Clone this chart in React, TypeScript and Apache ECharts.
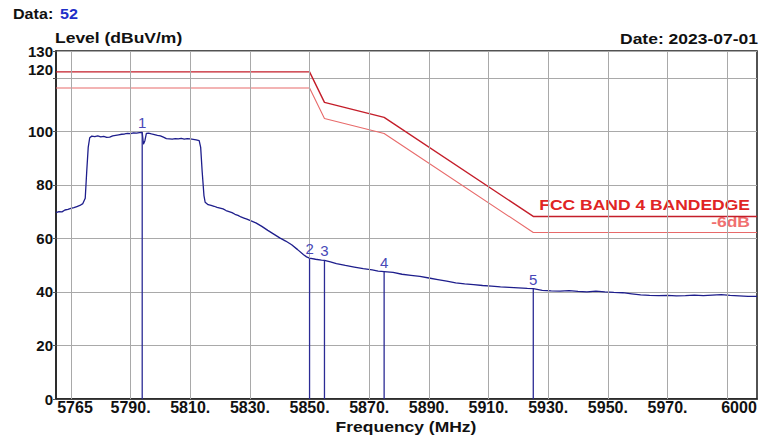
import React, { useEffect, useRef } from "react";
import * as echarts from "echarts";

const trace: [number, number][] = [
  [5765, 69.6], [5766, 70.0], [5767, 69.9], [5768, 70.6], [5769, 70.8], [5770, 71.2],
  [5771, 71.5], [5772, 71.9], [5773, 72.3], [5774, 73.0], [5774.8, 75.0], [5775.3, 85.0],
  [5775.8, 94.0], [5776.3, 97.6], [5777, 98.2], [5778, 98.0], [5779, 98.3], [5780, 97.9],
  [5781, 98.1], [5782, 97.7], [5783, 97.8], [5784, 98.3], [5785, 98.5], [5786, 98.7],
  [5787, 98.9], [5788, 99.0], [5789, 99.2], [5790, 99.1], [5791, 99.4], [5792, 99.3],
  [5793, 99.5], [5793.9, 99.6], [5794.3, 95.2], [5794.8, 96.5], [5795.3, 99.2], [5796, 99.3],
  [5797, 99.0], [5798, 98.8], [5799, 98.5], [5800, 98.3], [5801, 97.8], [5802, 97.3],
  [5803, 97.2], [5804, 97.1], [5805, 97.3], [5806, 97.2], [5807, 97.4], [5808, 97.1],
  [5809, 97.3], [5810, 97.2], [5811, 97.0], [5812, 96.8], [5813, 96.5], [5813.5, 94.0],
  [5814, 85.0], [5814.6, 76.0], [5815, 73.5], [5816, 72.6], [5817, 72.3], [5818, 72.0],
  [5819, 71.6], [5820, 71.3], [5821, 71.0], [5822, 70.4], [5823, 70.0], [5824, 69.6],
  [5825, 69.0], [5826, 68.6], [5827, 68.0], [5828, 67.6], [5829, 67.2], [5830, 66.7],
  [5832, 65.8], [5834, 64.5], [5836, 63.0], [5838, 61.6], [5840, 60.2], [5842, 59.0],
  [5844, 57.6], [5846, 55.8], [5848, 53.9], [5849, 53.1], [5850, 52.6], [5852, 52.2],
  [5854, 51.9], [5855, 51.8], [5857, 51.2], [5859, 50.6], [5862, 49.9], [5865, 49.3],
  [5868, 48.7], [5871, 48.2], [5873, 47.8], [5875, 47.6], [5878, 47.3], [5881, 46.6],
  [5884, 46.2], [5887, 45.8], [5890, 45.2], [5893, 44.6], [5896, 44.0], [5899, 43.4],
  [5902, 43.0], [5905, 42.7], [5908, 42.4], [5911, 42.2], [5914, 41.9], [5917, 41.7],
  [5920, 41.5], [5923, 41.3], [5925, 41.2], [5928, 40.6], [5931, 40.4], [5934, 40.3],
  [5937, 40.5], [5940, 40.2], [5943, 40.0], [5946, 40.3], [5949, 40.0], [5952, 39.8],
  [5955, 39.7], [5958, 39.3], [5961, 38.9], [5964, 38.7], [5967, 38.6], [5970, 38.7],
  [5973, 38.5], [5976, 38.6], [5979, 38.8], [5982, 38.6], [5985, 38.8], [5988, 39.0],
  [5991, 38.7], [5994, 38.5], [5997, 38.3], [6000, 38.3],
];

// FCC band 4 band-edge limit and -6 dB line
const limitFreq = [5765, 5850, 5855, 5875, 5925, 6000];
const limitLevel = [122.2, 122.2, 110.8, 105.2, 68.2, 68.2];
const limit6Level = [116.2, 116.2, 104.8, 99.2, 62.2, 62.2];

// Markers
const markerLabels = ["1", "2", "3", "4", "5"];
const markerFreq = [5793.9, 5850, 5855, 5875, 5925];
const markerLevel = [99.6, 52.6, 51.8, 47.6, 41.2];

// Axes
const xMin = 5765;
const xMax = 6000;
const xLabelValues = [5765, 5790, 5810, 5830, 5850, 5870, 5890, 5910, 5930, 5950, 5970, 6000];
const xGridValues = [5770, 5790, 5810, 5830, 5850, 5870, 5890, 5910, 5930, 5950, 5970, 5990];
const yMin = 0;
const yMax = 130;
const yInterval = 20;

const FONT = '"Liberation Sans", Arial, sans-serif';
const GRID_COLOR = "#a9a9a9";

function buildOption(): any {
  const lab = (extra: any = {}) => ({
    fontSize: 16,
    fontWeight: "bold",
    fontFamily: FONT,
    color: "#111",
    ...extra,
  });
  const ylab = (extra: any = {}) => ({
    fontSize: 15,
    fontWeight: "bold",
    fontFamily: FONT,
    color: "#111",
    ...extra,
  });
  const gtext = (text: string, x: number, y: number, align: string, fill: string, scaleX = 1.25, font = `bold 14px ${FONT}`) => ({
    type: "text",
    x,
    y,
    scaleX,
    silent: true,
    style: {
      text,
      fill,
      font,
      align,
      textAlign: align,
      verticalAlign: "middle",
      textVerticalAlign: "middle",
    },
  });

  return {
    animation: false,
    backgroundColor: "#ffffff",
    grid: {
      left: 56,
      right: 15,
      top: 51,
      bottom: 42,
      show: true,
      borderColor: "#1a1a1a",
      borderWidth: 1.5,
      backgroundColor: "transparent",
    },
    xAxis: {
      type: "value",
      min: xMin,
      max: xMax,
      axisLine: { show: true, lineStyle: { color: "#222", width: 1.5 } },
      axisTick: { show: false },
      splitLine: { show: false },
      axisLabel: {
        customValues: xLabelValues,
        showMinLabel: true,
        showMaxLabel: true,
        margin: 0,
        formatter: (v: number) =>
          v === xMin ? `{l|${v}}` : v === xMax ? `{r|${v}}` : `{n|${v}.}`,
        rich: {
          n: lab(),
          l: lab({ padding: [0, 0, 0, 38] }),
          r: lab({ padding: [0, 36, 0, 0] }),
        },
      },
    },
    yAxis: {
      type: "value",
      min: yMin,
      max: yMax,
      interval: yInterval,
      axisLine: { show: true, lineStyle: { color: "#222", width: 1.5 } },
      axisTick: { show: true, length: 3, lineStyle: { color: "#555" } },
      splitLine: { show: true, lineStyle: { color: GRID_COLOR, width: 1 } },
      axisLabel: {
        margin: 3,
        showMaxLabel: true,
        formatter: (v: number) => (v === 120 ? `{u|${v}}` : `{n|${v}}`),
        rich: {
          n: ylab(),
          u: ylab({ padding: [0, 0, 16, 0] }),
        },
      },
    },
    graphic: [
      gtext("Data:", 13, 13.5, "left", "#111", 1.15),
      gtext("52", 60, 13.5, "left", "#1f2fc8", 1.15),
      gtext("Level (dBuV/m)", 55, 38.5, "left", "#111"),
      gtext("Date: 2023-07-01", 758, 39.3, "right", "#111"),
      gtext("Frequency (MHz)", 406, 427, "center", "#111"),
      gtext("FCC BAND 4 BANDEDGE", 750, 205, "right", "#e02424"),
      gtext("-6dB", 750, 221.7, "right", "#f07070"),
    ],
    series: [
      {
        name: "vgrid",
        type: "line",
        data: [[xMin, yMin]],
        symbol: "none",
        silent: true,
        z: 1,
        lineStyle: { width: 0 },
        markLine: {
          silent: true,
          symbol: "none",
          label: { show: false },
          lineStyle: { color: GRID_COLOR, width: 1, type: "solid" },
          data: xGridValues.map((v) => ({ xAxis: v })),
        },
      },
      {
        name: "FCC BAND 4 BANDEDGE",
        type: "line",
        data: limitFreq.map((f, i) => [f, limitLevel[i]]),
        symbol: "none",
        silent: true,
        z: 3,
        lineStyle: { color: "#c41e2a", width: 1.4 },
      },
      {
        name: "-6dB",
        type: "line",
        data: limitFreq.map((f, i) => [f, limit6Level[i]]),
        symbol: "none",
        silent: true,
        z: 3,
        lineStyle: { color: "#e86a6a", width: 1.1 },
      },
      {
        name: "Level",
        type: "line",
        data: trace,
        symbol: "none",
        silent: true,
        z: 4,
        lineStyle: { color: "#1e1e8c", width: 1.3 },
      },
      {
        name: "Markers",
        type: "custom",
        z: 5,
        silent: true,
        data: markerFreq.map((f, i) => [f, markerLevel[i]]),
        renderItem: (params: any, api: any) => {
          const x = api.value(0);
          const v = api.value(1);
          const p0 = api.coord([x, 0]);
          const p1 = api.coord([x, v]);
          return {
            type: "group",
            children: [
              {
                type: "line",
                shape: { x1: p0[0], y1: p0[1], x2: p1[0], y2: p1[1] },
                style: { stroke: "#2b2b95", lineWidth: 1.3 },
              },
              {
                type: "text",
                x: p1[0],
                y: p1[1] - 2,
                style: {
                  text: markerLabels[params.dataIndex],
                  fill: "#4848b8",
                  font: `15px ${FONT}`,
                  align: "center",
                  textAlign: "center",
                  verticalAlign: "bottom",
                  textVerticalAlign: "bottom",
                },
              },
            ],
          };
        },
      },
    ],
  };
}

export default function App() {
  const ref = useRef<HTMLDivElement>(null);
  useEffect(() => {
    if (!ref.current) return;
    const chart = echarts.init(ref.current, null, { renderer: "svg" });
    chart.setOption(buildOption());
    return () => chart.dispose();
  }, []);
  return (
    <div
      ref={ref}
      style={{ position: "fixed", left: 0, top: 0, width: 772, height: 441, background: "#fff" }}
    />
  );
}
